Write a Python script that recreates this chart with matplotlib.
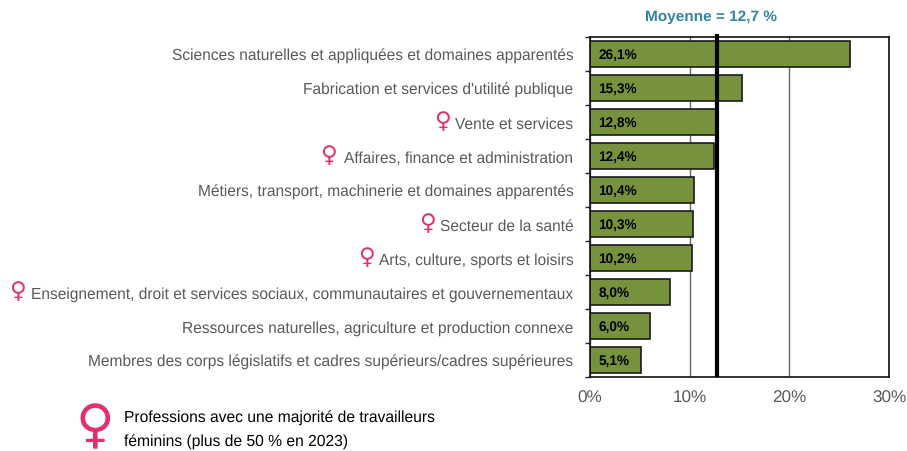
import matplotlib
matplotlib.use('Agg')
import matplotlib.pyplot as plt

plt.rcParams['font.family'] = ['Liberation Sans', 'DejaVu Sans']
plt.rcParams['text.hinting'] = 'none'

categories = [
    "Sciences naturelles et appliquées et domaines apparentés",
    "Fabrication et services d'utilité publique",
    "Vente et services",
    "Affaires, finance et administration",
    "Métiers, transport, machinerie et domaines apparentés",
    "Secteur de la santé",
    "Arts, culture, sports et loisirs",
    "Enseignement, droit et services sociaux, communautaires et gouvernementaux",
    "Ressources naturelles, agriculture et production connexe",
    "Membres des corps législatifs et cadres supérieurs/cadres supérieures",
]
values = [26.1, 15.3, 12.8, 12.4, 10.4, 10.3, 10.2, 8.0, 6.0, 5.1]
moyenne = 12.7
xticks = [0, 10, 20, 30]
# x pixel of the female sign, per labelled row
female_signs = {2: 442, 3: 328, 5: 427, 6: 366, 7: 17}

W, H = 907, 452
fig = plt.figure(figsize=(W / 100, H / 100), dpi=100)
ax = fig.add_axes([590 / W, 1 - 378 / H, 299 / W, 340 / H])

y = list(range(len(categories)))
ax.barh(y, values, height=0.76, color='#76923c', edgecolor='#1a1a1a', linewidth=1.2, zorder=2)
ax.set_ylim(len(categories) - 0.5, -0.5)
ax.set_xlim(0, 30)
ax.set_xticks(xticks)
ax.set_xticklabels([f'{t}%' for t in xticks], fontsize=12.3, color='#595959')
ax.set_yticks(y)
ax.set_yticklabels(categories, fontsize=11.2, color='#595959')
ax.set_yticks([i - 0.5 for i in range(len(categories) + 1)], minor=True)
ax.tick_params(axis='y', which='major', length=0, pad=12)
ax.tick_params(axis='y', which='minor', length=3.5, width=1, color='#222222')
ax.tick_params(axis='x', length=0, pad=9)
ax.grid(axis='x', color='#666666', linewidth=1, zorder=1)
for s in ax.spines.values():
    s.set_color('#111111')
    s.set_linewidth(1.2)

for i, v in enumerate(values):
    ax.text(0.85, i, f'{v:.1f}%'.replace('.', ','), va='center', ha='left',
            fontsize=9.8, fontweight='bold', color='black', zorder=4)

ax.plot([moyenne, moyenne], [-0.6, len(categories) - 0.5], color='black', linewidth=3,
        zorder=3, clip_on=False, solid_capstyle='butt')

fig.text(711 / W, 1 - 17 / H, 'Moyenne = 12,7 %', ha='center', va='center', fontsize=11.1,
         fontweight='bold', color='#31859c')

for row, px in female_signs.items():
    py = 38 + 34 * (row + 0.5) - 1
    fig.text(px / W, 1 - py / H, '♀', ha='center', va='center', fontsize=16.5, color='#e0306e',
             family='DejaVu Sans', fontweight='bold')

fig.text(95 / W, 1 - 428 / H, '♀', ha='center', va='center', fontsize=38, color='#e0306e',
         family='DejaVu Sans', fontweight='bold')
fig.text(124 / W, 1 - 430 / H, 'Professions avec une majorité de travailleurs\nféminins (plus de 50 % en 2023)',
         ha='left', va='center', fontsize=11.25, color='black', linespacing=1.75)

fig.savefig('out.png', dpi=100)
